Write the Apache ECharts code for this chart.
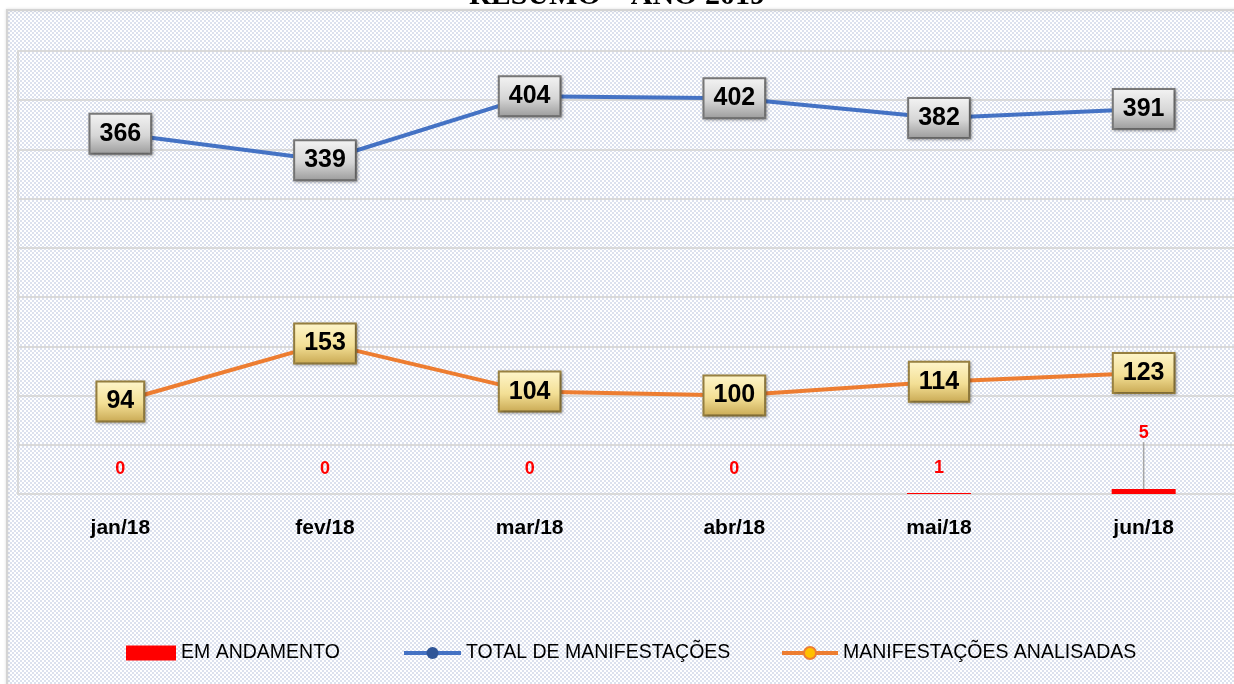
<!DOCTYPE html>
<html>
<head>
<meta charset="utf-8">
<script src="https://cdn.jsdelivr.net/npm/echarts@6/dist/echarts.min.js"></script>
<style>
  html, body { margin: 0; padding: 0; background: #fff; }
  #main { width: 1234px; height: 684px; }
</style>
</head>
<body>
<div id="main"></div>
<script>
var months = ['jan/18', 'fev/18', 'mar/18', 'abr/18', 'mai/18', 'jun/18'];
var emAndamento = [0, 0, 0, 0, 1, 5];
var totalManifestacoes = [366, 339, 404, 402, 382, 391];
var analisadas = [94, 153, 104, 100, 114, 123];

// fundo quadriculado
var tile = document.createElement('canvas');
tile.width = 4; tile.height = 4;
var ctx = tile.getContext('2d');
ctx.fillStyle = '#ffffff';
ctx.fillRect(0, 0, 4, 4);
ctx.fillStyle = '#dce1ee';
ctx.fillRect(0, 0, 2, 2);
ctx.fillRect(2, 2, 2, 2);

var myChart = echarts.init(document.getElementById('main'));

function boxLabel(c0, c1, c2, border) {
    return {
        show: true,
        position: 'inside',
        color: '#000',
        fontFamily: 'Liberation Sans, Arial, sans-serif',
        fontWeight: 'bold',
        fontSize: 25,
        lineHeight: 27,
        padding: [6, 9, 5, 9],
        backgroundColor: {
            type: 'linear', x: 0, y: 0, x2: 0, y2: 1,
            colorStops: [{offset: 0, color: c0}, {offset: 0.55, color: c1}, {offset: 1, color: c2}]
        },
        borderColor: border,
        borderWidth: 2,
        shadowColor: 'rgba(0,0,0,0.35)',
        shadowBlur: 3,
        shadowOffsetX: 1,
        shadowOffsetY: 1
    };
}

var barData = emAndamento.map(function (v, i) {
    if (i === 5) {
        return { value: v, labelLine: { show: true, lineStyle: { color: '#a6a6a6', width: 1.5 } } };
    }
    return v;
});

var legendText = {
    fontFamily: 'Liberation Sans, Arial, sans-serif',
    fontSize: 19.5,
    color: '#000'
};

var option = {
    backgroundColor: { image: tile, repeat: 'repeat' },
    animation: false,
    title: {
        text: 'RESUMO – ANO 2019',
        left: 'center',
        top: -24,
        textStyle: { fontFamily: 'Liberation Serif, serif', fontWeight: 'bold', fontSize: 30, color: '#000' }
    },
    graphic: [
        { type: 'rect', z: -10, silent: true, shape: { x: 0, y: 0, width: 1234, height: 10 }, style: { fill: '#fff' } },
        { type: 'rect', z: -10, silent: true, shape: { x: 0, y: 0, width: 7, height: 684 }, style: { fill: '#fff' } },
        { type: 'rect', z: -9, silent: true, shape: { x: 7, y: 10, width: 1240, height: 690 },
          style: { fill: 'none', stroke: '#d4d4d4', lineWidth: 2, shadowColor: 'rgba(0,0,0,0.15)', shadowBlur: 3 } }
    ],
    legend: [
        { data: [{ name: 'EM ANDAMENTO', icon: 'rect' }], left: 121, top: 638, itemWidth: 50, itemHeight: 15, textStyle: legendText },
        { data: ['TOTAL DE MANIFESTAÇÕES'], left: 397, top: 638, itemWidth: 57, itemHeight: 15,
          lineStyle: { width: 4 }, textStyle: legendText },
        { data: ['MANIFESTAÇÕES ANALISADAS'], left: 775, top: 638, itemWidth: 56, itemHeight: 15,
          lineStyle: { width: 4 }, textStyle: legendText }
    ],
    grid: { left: 18, width: 1228, top: 51, height: 443, outerBoundsMode: 'none' },
    xAxis: {
        type: 'category',
        data: months,
        axisLine: { lineStyle: { color: '#d9d9d9', width: 2 } },
        axisTick: { show: false },
        axisLabel: {
            margin: 24,
            color: '#000',
            fontFamily: 'Liberation Sans, Arial, sans-serif',
            fontWeight: 'bold',
            fontSize: 21
        }
    },
    yAxis: {
        type: 'value',
        min: 0,
        max: 450,
        interval: 50,
        axisLabel: { show: false },
        axisTick: { show: false },
        axisLine: { show: true, lineStyle: { color: '#d9d9d9', width: 2 } },
        splitLine: { lineStyle: { color: '#d9d9d9', width: 2 } }
    },
    series: [
        {
            name: 'EM ANDAMENTO',
            type: 'bar',
            data: barData,
            barWidth: 64,
            itemStyle: { color: '#ff0000' },
            label: {
                show: true,
                position: 'top',
                distance: 16,
                color: '#ff0000',
                fontFamily: 'Liberation Sans, Arial, sans-serif',
                fontWeight: 'bold',
                fontSize: 18
            },
            labelLine: { show: false },
            labelLayout: function (params) {
                if (params.dataIndex === 5) {
                    return { dy: -31 };
                }
            },
            z: 3
        },
        {
            name: 'TOTAL DE MANIFESTAÇÕES',
            type: 'line',
            data: totalManifestacoes,
            symbol: 'circle',
            symbolSize: 10,
            lineStyle: { color: '#4472c4', width: 4 },
            itemStyle: { color: '#2f5597' },
            label: boxLabel('#f4f4f4', '#d6d6d6', '#9a9a9a', '#7a7a7a')
        },
        {
            name: 'MANIFESTAÇÕES ANALISADAS',
            type: 'line',
            data: analisadas,
            symbol: 'circle',
            symbolSize: 10,
            lineStyle: { color: '#ed7d31', width: 4 },
            itemStyle: { color: '#ffc000', borderColor: '#ed7d31', borderWidth: 2 },
            label: boxLabel('#fff6cc', '#f3df95', '#c8a852', '#9a8240')
        }
    ]
};

myChart.setOption(option);
</script>
</body>
</html>
